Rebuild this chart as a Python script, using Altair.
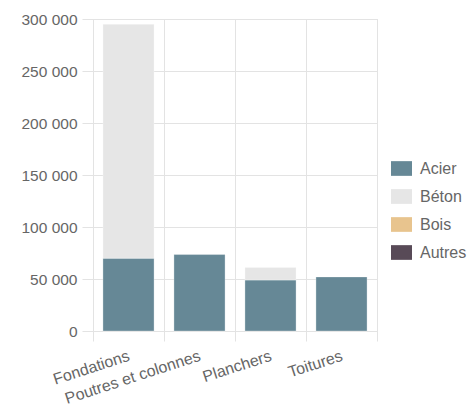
import altair as alt
import pandas as pd

# Material quantities per structural element
categories = ["Fondations", "Poutres et colonnes", "Planchers", "Toitures"]
materials = ["Acier", "Béton", "Bois", "Autres"]
acier = [70000, 73500, 49000, 52000]
beton = [225000, 0, 12000, 0]
bois = [0, 0, 0, 0]
autres = [0, 0, 0, 0]
colors = ["#668896", "#e6e6e6", "#e8c48e", "#584a57"]

rows = []
for series, name, order in zip([acier, beton, bois, autres], materials, range(4)):
    for cat, val in zip(categories, series):
        if val > 0:
            rows.append({"element": cat, "materiau": name, "valeur": val, "ordre": order})
df = pd.DataFrame(rows)

font = "Liberation Sans"
grid_color = "#e3e3e3"
text_color = "#666666"

chart = (
    alt.Chart(df)
    .mark_bar(width=alt.RelativeBandSize(0.72), stroke="white", strokeWidth=1, strokeOpacity=0.3)
    .encode(
        x=alt.X(
            "element:N",
            sort=categories,
            scale=alt.Scale(paddingInner=0, paddingOuter=0),
            axis=alt.Axis(
                title=None,
                labelAngle=-18,
                labelAlign="right",
                labelBaseline="middle",
                labelOverlap=False,
                tickBand="extent",
                domain=False,
                grid=True,
                gridColor=grid_color,
                tickColor=grid_color,
                tickSize=10,
                labelPadding=14,
                labelFontSize=16,
                labelFont=font,
                labelColor=text_color,
            ),
        ),
        y=alt.Y(
            "valeur:Q",
            stack="zero",
            scale=alt.Scale(domain=[0, 300000], nice=False),
            axis=alt.Axis(
                title=None,
                values=[0, 50000, 100000, 150000, 200000, 250000, 300000],
                labelExpr="replace(format(datum.value, ','), regexp(',', 'g'), ' ')",
                domain=False,
                gridColor=grid_color,
                tickColor=grid_color,
                tickSize=11,
                labelPadding=5,
                labelFontSize=15.5,
                labelFont=font,
                labelColor=text_color,
            ),
        ),
        color=alt.Color(
            "materiau:N",
            scale=alt.Scale(domain=materials, range=colors),
            legend=alt.Legend(
                title=None,
                orient="none",
                legendX=298,
                legendY=139,
                symbolType="M-1,-0.7H1V0.7H-1Z",
                symbolSize=441,
                symbolStrokeWidth=0,
                symbolOpacity=1,
                rowPadding=9,
                labelOffset=8,
                labelFontSize=16,
                labelFont=font,
                labelColor=text_color,
            ),
        ),
        order=alt.Order("ordre:Q", sort="ascending"),
    )
    .properties(
        width=284,
        height=312,
        autosize=alt.AutoSizeParams(type="none"),
        padding={"left": 93, "top": 19, "right": 93, "bottom": 80},
    )
    .configure_view(stroke=None)
    .configure(background="white")
)

chart.save("out.html", embed_options={"renderer": "svg", "actions": False})
